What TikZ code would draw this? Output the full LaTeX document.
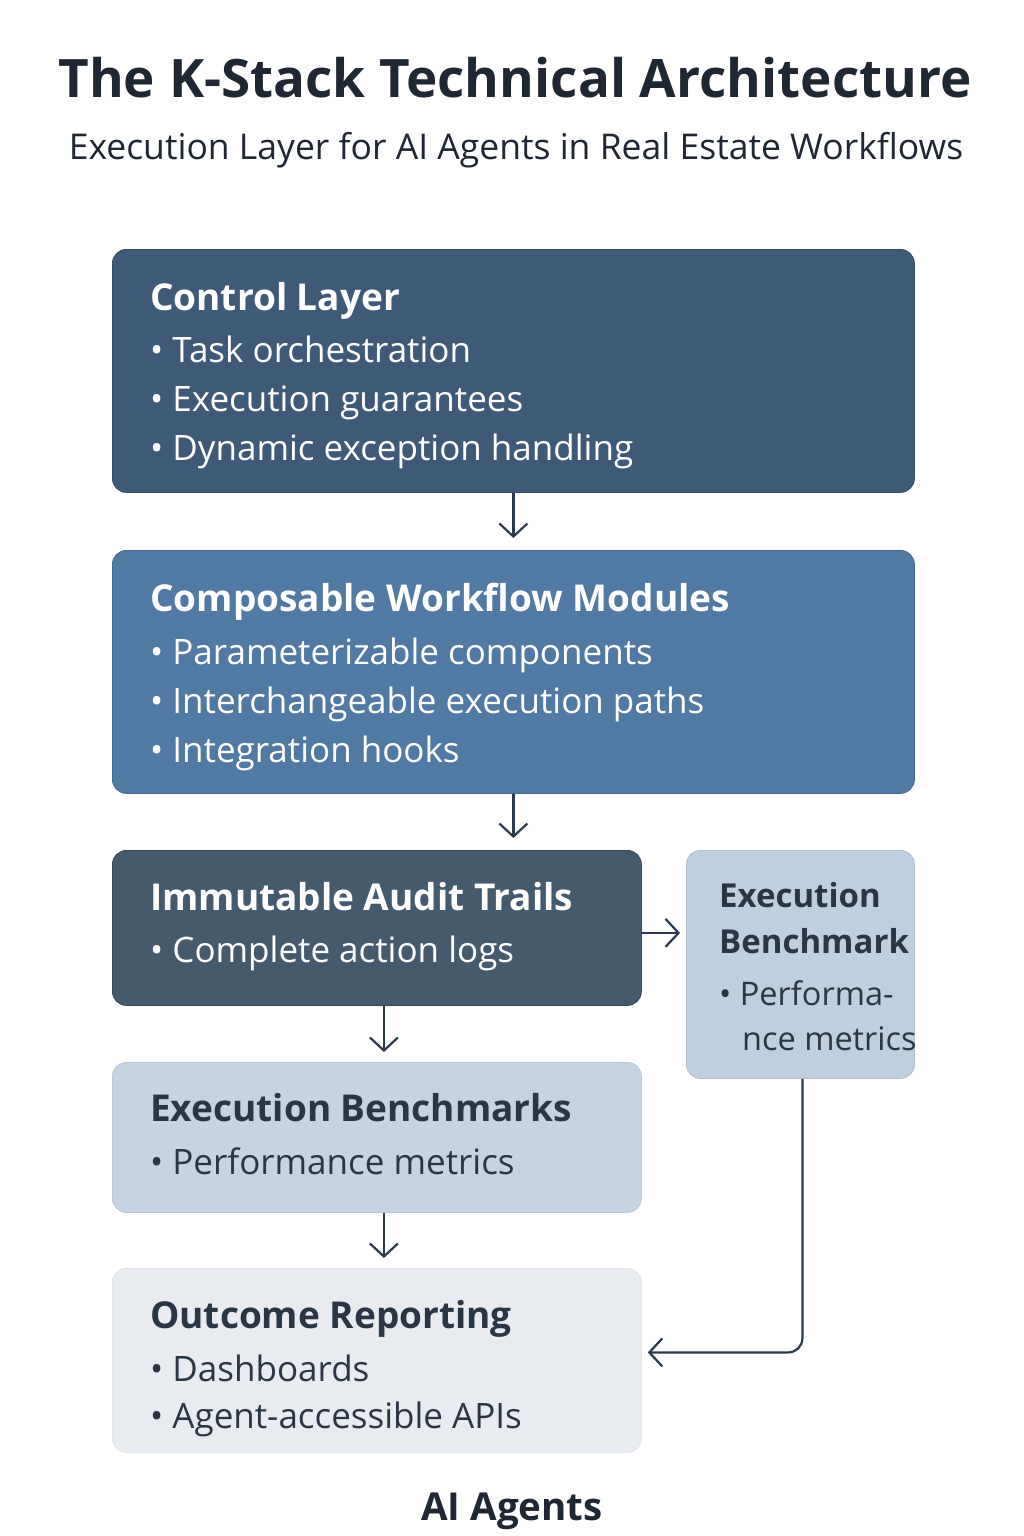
\documentclass[tikz,border=0pt]{standalone}
\usepackage{fontspec}
\setmainfont{Open Sans}
\usetikzlibrary{arrows.meta,calc}
\definecolor{ink}{HTML}{1F2733}
\definecolor{dink}{HTML}{2B3645}
\definecolor{arr}{HTML}{2B3A4E}
\definecolor{cctrl}{HTML}{3E5A78}
\definecolor{ccomp}{HTML}{5079A3}
\definecolor{caudit}{HTML}{465A6E}
\definecolor{cbench}{HTML}{BFCFE0}
\definecolor{cbenchs}{HTML}{C5D3E2}
\definecolor{cout}{HTML}{E8ECF1}
\begin{document}
\begin{tikzpicture}[x=1pt,y=-1pt,
  panel/.style={rectangle, rounded corners=14pt, anchor=north west, inner sep=0pt, line width=0.8pt},
  ttl/.style={anchor=base west, inner sep=0pt, font=\fontsize{37}{40}\selectfont\bfseries},
  itm/.style={anchor=base west, inner sep=0pt, font=\fontsize{35}{38}\selectfont},
  sttl/.style={anchor=base west, inner sep=0pt, font=\fontsize{33}{36}\selectfont\bfseries},
  sitm/.style={anchor=base west, inner sep=0pt, font=\fontsize{32.5}{36}\selectfont},
  conn/.style={arr, line width=2.2pt, -{Straight Barb[length=13pt,width=28pt,line width=2.2pt]}}
]
\useasboundingbox[fill=white] (0,0) rectangle (1024,1536);
% title
\node[anchor=base, inner sep=0pt, text=ink, font=\fontsize{53}{56}\selectfont\bfseries] (title) at (515,98) {The K-Stack Technical Architecture};
\node[anchor=base, inner sep=0pt, text=ink, font=\fontsize{35.5}{38}\selectfont] (sub) at (516,160) {Execution Layer for AI Agents in Real Estate Workflows};
% panels
\node[panel, fill=cctrl, draw=cctrl!85!black, minimum width=802pt, minimum height=243pt] (ctrl) at (112,249) {};
\node[panel, fill=ccomp, draw=ccomp!85!black, minimum width=802pt, minimum height=243pt] (comp) at (112,550) {};
\node[panel, fill=caudit, draw=caudit!80!black, minimum width=529pt, minimum height=155pt] (audit) at (112,850) {};
\node[panel, fill=cbench, draw=cbench!92!black, minimum width=228pt, minimum height=228pt] (bench) at (686,850) {};
\node[panel, fill=cbenchs, draw=cbenchs!95!black, minimum width=529pt, minimum height=150pt] (benchs) at (112,1062) {};
\node[panel, fill=cout, draw=cout!97!black, minimum width=529pt, minimum height=184pt] (out) at (112,1268) {};
% texts
\node[ttl, text=white] (t1) at (150,310) {Control Layer};
\node[itm, text=white] (t1a) at (150,362) {• Task orchestration};
\node[itm, text=white] (t1b) at (150,411) {• Execution guarantees};
\node[itm, text=white] (t1c) at (150,460) {• Dynamic exception handling};

\node[ttl, text=white] (t2) at (150,611) {Composable Workflow Modules};
\node[itm, text=white] (t2a) at (150,664) {• Parameterizable components};
\node[itm, text=white] (t2b) at (150,713) {• Interchangeable execution paths};
\node[itm, text=white] (t2c) at (150,762) {• Integration hooks};

\node[ttl, text=white] (t3) at (150,910) {Immutable Audit Trails};
\node[itm, text=white] (t3a) at (150,962) {• Complete action logs};

\node[sttl, text=dink] (t4) at (719,907) {Execution};
\node[sttl, text=dink] (t4b) at (719,953) {Benchmark};
\node[sitm, text=dink] (t4c) at (719,1005) {• Performa-};
\node[sitm, text=dink] (t4d) at (742,1050) {nce metrics};

\node[ttl, text=dink] (t5) at (150,1121) {Execution Benchmarks};
\node[itm, text=dink] (t5a) at (150,1174) {• Performance metrics};

\node[ttl, text=dink] (t6) at (150,1328) {Outcome Reporting};
\node[itm, text=dink] (t6a) at (150,1381) {• Dashboards};
\node[itm, text=dink] (t6b) at (150,1428) {• Agent-accessible APIs};

\node[anchor=base, inner sep=0pt, text=ink, font=\fontsize{38.5}{41}\selectfont\bfseries] (agents) at (512,1520) {AI Agents};
% connectors
\draw[conn, shorten >=12pt] (ctrl.south) -- (comp.north);
\draw[conn, shorten >=12pt] (comp.south) -- (audit.north -| comp.south);
\draw[conn, shorten >=10pt] ($(audit.south)+(7,0)$) -- ($(benchs.north)+(7,0)$);
\draw[conn, shorten >=10pt] ($(benchs.south)+(7,0)$) -- ($(out.north)+(7,0)$);
\draw[conn, shorten >=6pt] ($(audit.east)+(0,5)$) -- ($(bench.west |- audit.east)+(0,5)$);
\coordinate (tgt) at ($(out.east)+(0,-8)$);
\draw[conn, rounded corners=14pt, shorten >=6pt] ($(bench.south)+(2,0)$) |- (tgt);
\end{tikzpicture}
\end{document}
